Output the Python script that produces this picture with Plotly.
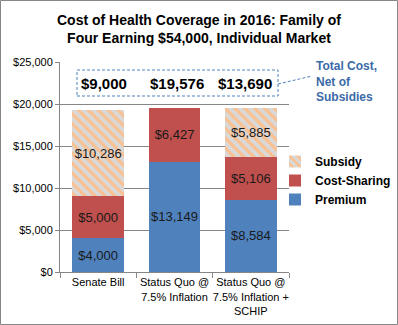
import plotly.graph_objects as go

categories = ["Senate Bill", "Status Quo @<br>7.5% Inflation", "Status Quo @<br>7.5% Inflation +<br>SCHIP"]
premium = [4000, 13149, 8584]
cost_sharing = [5000, 6427, 5106]
subsidy = [10286, 0, 5885]
y_ticks = [0, 5000, 10000, 15000, 20000, 25000]
y_tick_text = ["$0", "$5,000", "$10,000", "$15,000", "$20,000", "$25,000"]

def labels(vals):
    return ["" if v == 0 else "${:,}".format(v) for v in vals]

net = [p + c for p, c in zip(premium, cost_sharing)]

W, H = 398, 325
ml, mr, mt, mb = 60, 109, 62, 53
pw, ph = W - ml - mr, H - mt - mb

def px(x):
    return (x - ml) / pw

def py(y):
    return 1 - (y - mt) / ph

fig = go.Figure()
txtfont = dict(family="Arial", size=13, color="#1a1a1a")
common = dict(textposition="inside", insidetextanchor="middle", textfont=txtfont,
              constraintext="none", textangle=0, hoverinfo="skip")
fig.add_bar(x=categories, y=premium, name="Premium", marker=dict(color="#4F81BD", line=dict(width=0)),
            text=labels(premium), **common)
fig.add_bar(x=categories, y=cost_sharing, name="Cost-Sharing", marker=dict(color="#C0504D", line=dict(width=0)),
            text=labels(cost_sharing), **common)
fig.add_bar(x=categories, y=subsidy, name="Subsidy",
            marker=dict(color="#D9D9D9", line=dict(width=0),
                        pattern=dict(shape="\\", fgcolor="#FAC090", bgcolor="#D9D9D9", fgopacity=1,
                                     size=7, solidity=0.45, fillmode="overlay")),
            text=labels(subsidy), **common)

fig.update_layout(
    width=W, height=H, barmode="stack", bargap=0.32,
    margin=dict(l=ml, r=mr, t=mt, b=mb, autoexpand=False),
    paper_bgcolor="white", plot_bgcolor="white",
    font=dict(family="Arial", size=11, color="black"),
    showlegend=True,
    legend=dict(x=px(275), y=py(147), xanchor="left", yanchor="top", traceorder="reversed",
                font=dict(family="Arial", size=12, color="black", weight="bold"), bgcolor="rgba(0,0,0,0)",
                itemwidth=30, tracegroupgap=0),
    xaxis=dict(showline=True, linecolor="#868686", linewidth=1, ticks="outside", tickson="boundaries",
               ticklen=5, tickcolor="#868686", tickangle=0, tickfont=dict(family="Arial", size=11, color="black")),
    yaxis=dict(range=[0, 25000], tickvals=y_ticks, ticktext=y_tick_text, showgrid=True,
               gridcolor="#868686", gridwidth=1, showline=True, linecolor="#868686", linewidth=1,
               ticks="outside", ticklen=4, tickcolor="#868686", zeroline=False,
               tickfont=dict(family="Arial", size=11, color="black")),
)

# Title
fig.add_annotation(x=px(W / 2), y=py(10), xref="paper", yref="paper", xanchor="center", yanchor="top",
                   text="<b>Cost of Health Coverage in 2016: Family of<br>Four Earning $54,000, Individual Market</b>",
                   showarrow=False, align="center", font=dict(family="Arial", size=14, color="black"))

# Dashed box with net totals
fig.add_shape(type="rect", xref="paper", yref="paper", x0=px(77), x1=px(278), y0=py(96), y1=py(70),
              line=dict(color="#4F81BD", width=1, dash="3px,2px"), fillcolor="white", layer="above")
for cat, v, xs in zip(categories, net, [6, 2, -6]):
    fig.add_annotation(x=cat, xref="x", y=py(83), yref="paper", yanchor="middle", text="<b>${:,}</b>".format(v),
                       showarrow=False, xshift=xs, font=dict(family="Arial", size=15, color="black"))

# Callout
fig.add_shape(type="line", xref="paper", yref="paper", x0=px(278), y0=py(84), x1=px(312), y1=py(76),
              line=dict(color="#4F81BD", width=1, dash="3px,2px"))
fig.add_annotation(x=px(314), y=py(57), xref="paper", yref="paper", xanchor="left", yanchor="top", align="left",
                   text="<b>Total Cost,<br>Net of<br>Subsidies</b>", showarrow=False,
                   font=dict(family="Arial", size=12, color="#3B6AA8"))

# Outer border
fig.add_shape(type="rect", xref="paper", yref="paper", x0=px(0.5), x1=px(W - 0.5), y0=py(H - 0.5), y1=py(0.5),
              line=dict(color="#868686", width=1), layer="below")

fig.write_html("out.html")
